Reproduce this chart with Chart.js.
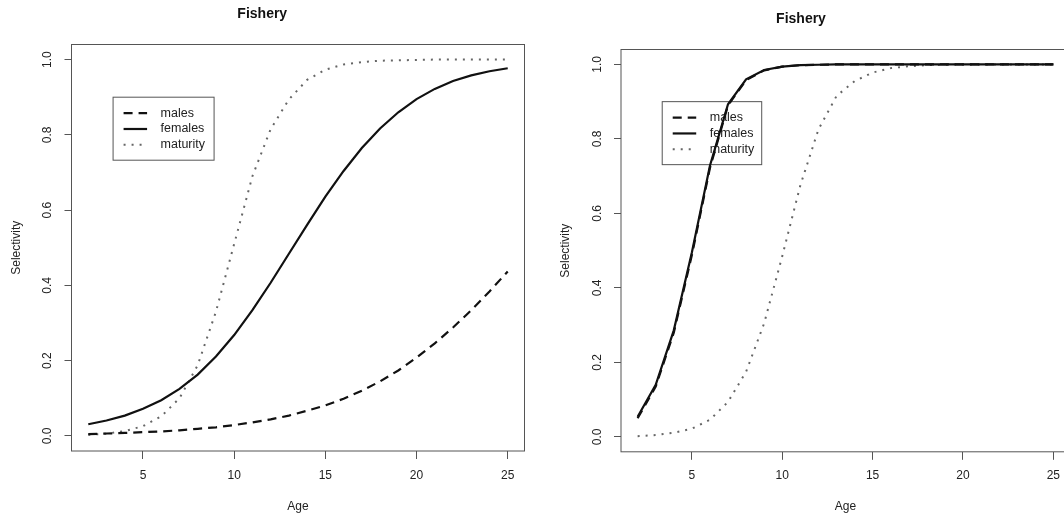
<!DOCTYPE html>
<html>
<head>
<meta charset="utf-8">
<script src="https://cdn.jsdelivr.net/npm/chart.js@4.4.1/dist/chart.umd.min.js"></script>
<style>
  html, body { margin: 0; padding: 0; background: #fff; overflow: hidden; }
  body { width: 1064px; height: 522px; position: relative; }
  .panel { position: absolute; top: 0; height: 522px; }
  #leftBox { left: 0; width: 532px; }
  #rightBox { left: 532px; width: 540px; }
</style>
</head>
<body>
<div class="panel" id="leftBox"><canvas id="chartLeft"></canvas></div>
<div class="panel" id="rightBox"><canvas id="chartRight"></canvas></div>
<script>
var ages = [2, 3, 4, 5, 6, 7, 8, 9, 10, 11, 12, 13, 14, 15, 16, 17, 18, 19, 20, 21, 22, 23, 24, 25];

var leftMales = [0.005, 0.0065, 0.008, 0.010, 0.012, 0.015, 0.019, 0.023, 0.029, 0.036, 0.044, 0.054,
  0.067, 0.081, 0.099, 0.120, 0.145, 0.174, 0.208, 0.246, 0.288, 0.334, 0.384, 0.437];
var leftFemales = [0.031, 0.041, 0.054, 0.072, 0.095, 0.125, 0.163, 0.211, 0.268, 0.334, 0.407, 0.484,
  0.561, 0.636, 0.704, 0.765, 0.817, 0.860, 0.895, 0.922, 0.943, 0.958, 0.969, 0.977];
var leftMaturity = [0.003, 0.006, 0.013, 0.026, 0.052, 0.100, 0.188, 0.330, 0.510, 0.690, 0.815, 0.894,
  0.946, 0.973, 0.987, 0.993, 0.997, 0.998, 0.999, 1, 1, 1, 1, 1];

var rightMales = [0.050, 0.135, 0.280, 0.488, 0.722, 0.890, 0.958, 0.984, 0.994, 0.998, 0.999, 1,
  1, 1, 1, 1, 1, 1, 1, 1, 1, 1, 1, 1];
var rightFemales = [0.054, 0.140, 0.286, 0.495, 0.728, 0.893, 0.960, 0.985, 0.994, 0.998, 0.999, 1,
  1, 1, 1, 1, 1, 1, 1, 1, 1, 1, 1, 1];
var rightMaturity = [0.002, 0.005, 0.011, 0.022, 0.046, 0.094, 0.175, 0.305, 0.485, 0.675, 0.825, 0.915,
  0.955, 0.978, 0.990, 0.995, 0.998, 0.999, 1, 1, 1, 1, 1, 1];

var seriesNames = ["males", "females", "maturity"];
var xTicks = [5, 10, 15, 20, 25];
var yTicks = [0, 0.2, 0.4, 0.6, 0.8, 1.0];

var FONT = "'Liberation Sans', Arial, Helvetica, sans-serif";
var ink = "#222";
var frame = "#555";

var styles = [
  { color: "#111", width: 2.2, dash: [9, 6] },
  { color: "#111", width: 2.2, dash: [] },
  { color: "#666", width: 2, dash: [2, 6] },
];

function points(ys) {
  return ages.map(function (a, i) { return { x: a, y: ys[i] }; });
}

// R-style box around the plot region
var framePlugin = {
  id: "frame",
  afterDraw: function (chart) {
    var a = chart.chartArea, ctx = chart.ctx;
    ctx.save();
    ctx.strokeStyle = frame;
    ctx.lineWidth = 1;
    ctx.strokeRect(a.left, a.top, a.right - a.left, a.bottom - a.top);
    ctx.restore();
  },
};

// boxed legend placed at a data coordinate, like R's legend(x, y, ...)
var rLegendPlugin = {
  id: "rLegend",
  beforeDatasetsDraw: function (chart, args, opts) {
    var ctx = chart.ctx;
    var left = chart.scales.x.getPixelForValue(opts.at[0]);
    var top = chart.scales.y.getPixelForValue(opts.at[1]);
    ctx.save();
    ctx.strokeStyle = frame;
    ctx.lineWidth = 1;
    ctx.strokeRect(left, top, opts.width, opts.height);
    ctx.font = "12.5px " + FONT;
    ctx.textBaseline = "middle";
    ctx.fillStyle = ink;
    chart.data.datasets.forEach(function (ds, i) {
      var y = top + 16 + i * 15.8;
      ctx.beginPath();
      ctx.strokeStyle = ds.borderColor;
      ctx.lineWidth = ds.borderWidth;
      ctx.setLineDash(ds.borderDash);
      ctx.moveTo(left + 10.5, y);
      ctx.lineTo(left + 34, y);
      ctx.stroke();
      ctx.setLineDash([]);
      ctx.fillText(ds.label, left + 47.5, y);
    });
    ctx.restore();
  },
};

function makeChart(id, series, cfg) {
  var el = document.getElementById(id);
  return new Chart(el, {
    type: "line",
    data: {
      datasets: series.map(function (ys, i) {
        return {
          label: seriesNames[i],
          data: points(ys),
          borderColor: styles[i].color,
          borderWidth: styles[i].width,
          borderDash: styles[i].dash,
          borderCapStyle: "butt",
          pointRadius: 0,
          tension: 0,
          fill: false,
        };
      }),
    },
    options: {
      responsive: true,
      maintainAspectRatio: false,
      animation: false,
      layout: { padding: { left: 0, right: cfg.padRight, top: 0, bottom: 0 } },
      plugins: {
        legend: { display: false },
        tooltip: { enabled: false },
        title: {
          display: true,
          text: "Fishery",
          color: "#111",
          font: { family: FONT, size: 14, weight: "bold" },
          padding: { top: cfg.titleTop, bottom: cfg.titleBottom },
        },
        rLegend: { at: [3.36, 0.9], width: cfg.legendW, height: 63 },
      },
      scales: {
        x: {
          type: "linear",
          min: 1.08,
          max: 25.92,
          afterBuildTicks: function (scale) {
            scale.ticks = xTicks.map(function (v) { return { value: v }; });
          },
          afterFit: function (scale) { scale.height = cfg.xAxisH; },
          ticks: {
            autoSkip: false,
            maxRotation: 0,
            padding: 9,
            color: ink,
            font: { family: FONT, size: 12 },
          },
          grid: { drawOnChartArea: false, drawTicks: true, tickLength: 8, color: frame },
          border: { display: false },
          title: {
            display: true,
            text: "Age",
            color: ink,
            font: { family: FONT, size: 12 },
            padding: { top: 0, bottom: 7.8 },
          },
        },
        y: {
          type: "linear",
          min: -0.04,
          max: 1.04,
          afterBuildTicks: function (scale) {
            scale.ticks = yTicks.map(function (v) { return { value: v }; });
          },
          afterFit: function (scale) { scale.width = cfg.yAxisW; },
          ticks: {
            autoSkip: false,
            minRotation: 90,
            maxRotation: 90,
            crossAlign: "center",
            padding: 8,
            color: ink,
            font: { family: FONT, size: 12 },
            callback: function (v) { return Number(v).toFixed(1); },
          },
          grid: { drawOnChartArea: false, drawTicks: true, tickLength: 7, color: frame },
          border: { display: false },
          title: {
            display: true,
            text: "Selectivity",
            color: ink,
            font: { family: FONT, size: 12 },
            padding: { top: cfg.yTitlePad, bottom: 0 },
          },
        },
      },
    },
    plugins: [framePlugin, rLegendPlugin],
  });
}

makeChart("chartLeft", [leftMales, leftFemales, leftMaturity], {
  padRight: 7.5, titleTop: 5.6, titleBottom: 22.1, xAxisH: 71, yAxisW: 71.5, yTitlePad: 9.8, legendW: 101,
});
makeChart("chartRight", [rightMales, rightFemales, rightMaturity], {
  padRight: 2, titleTop: 10.9, titleBottom: 21.8, xAxisH: 70.2, yAxisW: 89, yTitlePad: 26.7, legendW: 99.5,
});
</script>
</body>
</html>
